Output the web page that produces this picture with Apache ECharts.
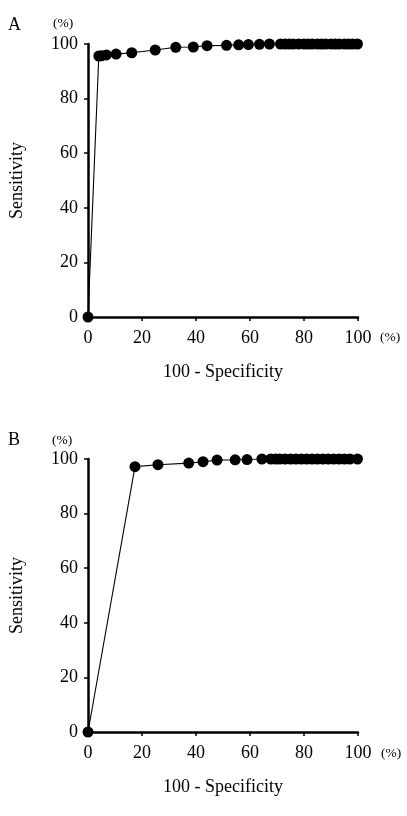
<!DOCTYPE html>
<html>
<head>
<meta charset="utf-8">
<script src="https://cdn.jsdelivr.net/npm/echarts@6/dist/echarts.min.js"></script>
<style>
html,body{margin:0;padding:0;background:#fff;}
#chart{width:407px;height:816px;}
</style>
</head>
<body>
<div id="chart"></div>
<script>
// Panel A ROC points (100 - Specificity, Sensitivity)
var rocAx = [0, 4.0, 5.0, 6.8, 10.4, 16.2, 24.9, 32.5, 39.0, 44.1, 51.3, 55.8, 59.4, 63.5, 67.2, 71.3, 73, 74.5, 76, 78, 80, 81.5, 83, 85, 86.5, 88, 90, 91.5, 93, 95, 96.5, 98, 99.8];
var rocAy = [0, 95.6, 95.7, 96.0, 96.3, 96.8, 97.8, 98.8, 98.9, 99.4, 99.5, 99.7, 99.8, 99.9, 100, 100, 100, 100, 100, 100, 100, 100, 100, 100, 100, 100, 100, 100, 100, 100, 100, 100, 100];
// Panel B ROC points
var rocBx = [0, 17.4, 25.9, 37.3, 42.6, 47.8, 54.5, 58.9, 64.4, 67.7, 69.5, 71, 73, 75, 77, 79, 81, 83, 85, 87, 89, 91, 93, 95, 97, 99.8];
var rocBy = [0, 97.2, 97.9, 98.5, 99.0, 99.6, 99.7, 99.8, 100, 100, 100, 100, 100, 100, 100, 100, 100, 100, 100, 100, 100, 100, 100, 100, 100, 100];
var xTicks = [0, 20, 40, 60, 80, 100];
var yTicks = [0, 20, 40, 60, 80, 100];

function pairs(xs, ys) { return xs.map(function (x, i) { return [x, ys[i]]; }); }

var FONT = '"Liberation Serif", "DejaVu Serif", serif';

function xAxisCfg(idx) {
  return {
    gridIndex: idx, type: 'value', min: 0, max: 100, interval: 20,
    name: '100 - Specificity', nameLocation: 'middle', nameGap: 46,
    nameTextStyle: { fontFamily: FONT, fontSize: 18, color: '#000' },
    axisLine: { show: true, lineStyle: { color: '#000', width: 2.5 } },
    axisTick: { show: true, inside: false, length: 4, lineStyle: { color: '#000', width: 1.5 } },
    axisLabel: { fontFamily: FONT, fontSize: 18, color: '#000', margin: 12,
      formatter: function (v) { return xTicks.indexOf(v) >= 0 ? String(v) : ''; } },
    splitLine: { show: false }
  };
}
function yAxisCfg(idx) {
  return {
    gridIndex: idx, type: 'value', min: 0, max: 100, interval: 20,
    name: 'Sensitivity', nameLocation: 'middle', nameGap: 62, nameRotate: 90,
    nameTextStyle: { fontFamily: FONT, fontSize: 18, color: '#000' },
    axisLine: { show: true, lineStyle: { color: '#000', width: 2.5 } },
    axisTick: { show: true, inside: false, length: 4, lineStyle: { color: '#000', width: 1.5 } },
    axisLabel: { fontFamily: FONT, fontSize: 18, color: '#000', margin: 10,
      formatter: function (v) { return yTicks.indexOf(v) >= 0 ? String(v) : ''; } },
    splitLine: { show: false }
  };
}
function seriesCfg(idx, data) {
  return {
    type: 'line', xAxisIndex: idx, yAxisIndex: idx, data: data,
    symbol: 'circle', symbolSize: 11, showSymbol: true,
    lineStyle: { color: '#000', width: 1.1 },
    itemStyle: { color: '#000' },
    animation: false, z: 5
  };
}

var chart = echarts.init(document.getElementById('chart'), null, { renderer: 'canvas' });
chart.setOption({
  backgroundColor: '#fff',
  animation: false,
  grid: [
    { left: 85, top: 44, width: 273, height: 273 },
    { left: 85, top: 459, width: 273, height: 273 }
  ],
  xAxis: [xAxisCfg(0), xAxisCfg(1)],
  yAxis: [yAxisCfg(0), yAxisCfg(1)],
  series: [seriesCfg(0, pairs(rocAx, rocAy)), seriesCfg(1, pairs(rocBx, rocBy))],
  graphic: [
    { type: 'text', left: 8, top: 16, style: { text: 'A', font: '18px ' + FONT, fill: '#000' } },
    { type: 'text', left: 53, top: 16, style: { text: '(%)', font: '13.5px ' + FONT, fill: '#000' } },
    { type: 'text', left: 380, top: 330, style: { text: '(%)', font: '13.5px ' + FONT, fill: '#000' } },
    { type: 'text', left: 8, top: 431, style: { text: 'B', font: '18px ' + FONT, fill: '#000' } },
    { type: 'text', left: 52, top: 433, style: { text: '(%)', font: '13.5px ' + FONT, fill: '#000' } },
    { type: 'text', left: 381, top: 746, style: { text: '(%)', font: '13.5px ' + FONT, fill: '#000' } }
  ]
});
</script>
</body>
</html>
